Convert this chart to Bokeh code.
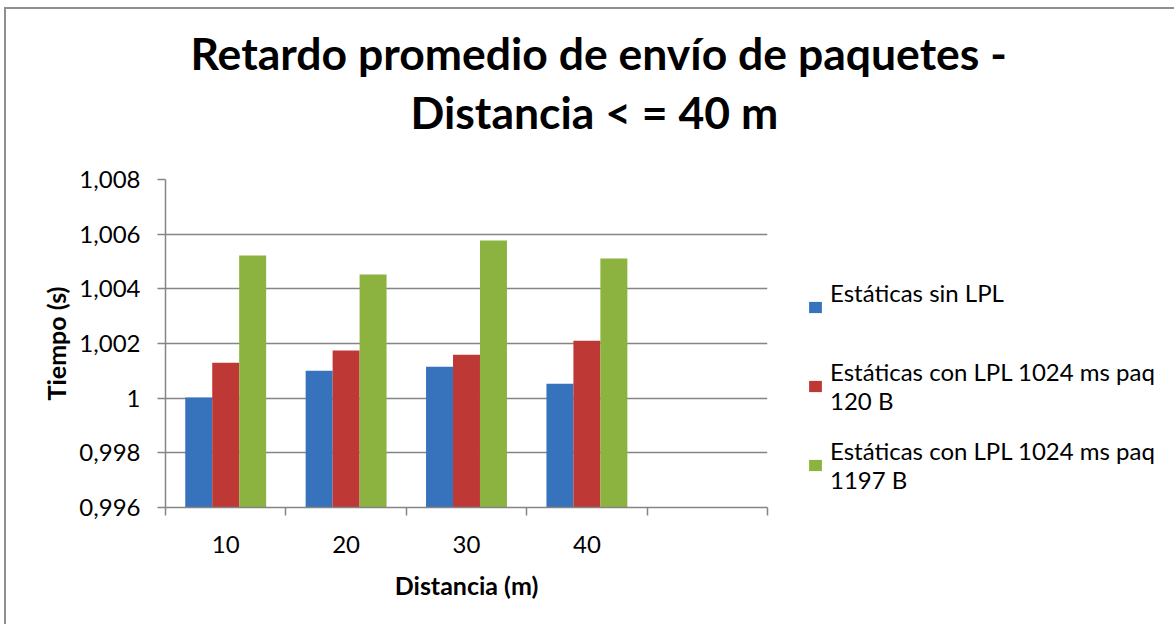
from bokeh.plotting import figure
from bokeh.models import (Range1d, FixedTicker, CustomJSTickFormatter,
                          Legend, LegendItem, Title, ColumnDataSource)
from bokeh.transform import dodge
from bokeh.embed import file_html
from bokeh.resources import INLINE

# ---- data ----
categories = ["10", "20", "30", "40", " "]
distances = ["10", "20", "30", "40"]
sin_lpl = [1.00002, 1.00100, 1.00115, 1.00053]
lpl_120 = [1.00130, 1.00174, 1.00159, 1.00210]
lpl_1197 = [1.00522, 1.00452, 1.00577, 1.00511]
series_labels = ["Estáticas sin LPL\n ",
                 "Estáticas con LPL 1024 ms paq\n120 B",
                 "Estáticas con LPL 1024 ms paq\n1197 B"]
y_ticks = [0.996, 0.998, 1.0, 1.002, 1.004, 1.006, 1.008]
y_tick_labels = ["0,996", "0,998", "1", "1,002", "1,004", "1,006", "1,008"]
title_lines = ["Retardo promedio de envío de paquetes -", "Distancia < = 40 m"]
x_label = "Distancia (m)"
y_label = "Tiempo (s)"

colors = ["#3772BD", "#BE3836", "#8CB23F"]
FONT = "Lato"
GRID = "#858585"

n = len(categories)
xpos = [categories.index(d) + 0.5 for d in distances]   # category centres on the numeric axis
source = ColumnDataSource(data=dict(x=xpos, a=sin_lpl, b=lpl_120, c=lpl_1197))

p = figure(x_range=Range1d(0, n), y_range=Range1d(y_ticks[0], y_ticks[-1]),
           frame_width=602, frame_height=328, output_backend="svg", toolbar_location=None,
           min_border_left=159, min_border_right=0,
           min_border_top=170, min_border_bottom=117)
p.styles = {"border-left": "2px solid #8f8f8f", "border-top": "2px solid #8f8f8f",
            "margin-left": "4px", "margin-top": "7px"}
p.outline_line_color = None
p.background_fill_color = "white"
p.border_fill_color = "white"

bw = 0.224
renderers = []
for col, off, colr in zip(["a", "b", "c"], [-bw, 0.0, bw], colors):
    r = p.vbar(x=dodge("x", off), top=col, bottom=y_ticks[0], width=bw,
               source=source, fill_color=colr, line_color=None)
    renderers.append(r)

# y axis
yax = p.yaxis[0]
yax.ticker = FixedTicker(ticks=y_ticks)
yax.formatter = CustomJSTickFormatter(args=dict(tvals=y_ticks, tlabels=y_tick_labels), code="""
let best = 0;
for (let i = 1; i < tvals.length; i++) {
  if (Math.abs(tvals[i] - tick) < Math.abs(tvals[best] - tick)) best = i;
}
return tlabels[best];
""")
yax.axis_line_color = GRID
yax.axis_line_width = 1.5
yax.major_tick_line_color = GRID
yax.major_tick_line_width = 1.5
yax.major_tick_out = 8
yax.major_tick_in = 0
yax.minor_tick_line_color = None
yax.major_label_text_font = FONT
yax.major_label_text_font_size = "24px"
yax.major_label_text_color = "black"
yax.major_label_standoff = 17
yax.axis_label = y_label
yax.axis_label_text_font = FONT
yax.axis_label_text_font_size = "25px"
yax.axis_label_text_font_style = "bold"
yax.axis_label_text_color = "black"
yax.axis_label_standoff = 5

p.ygrid.ticker = FixedTicker(ticks=y_ticks)
p.ygrid.grid_line_color = GRID
p.ygrid.grid_line_width = 1.5
p.xgrid.visible = False

# x axis: labels at category centres, tick marks at category boundaries
xax = p.xaxis[0]
xax.ticker = FixedTicker(ticks=[i + 0.5 for i in range(n)], minor_ticks=list(range(n + 1)))
xax.formatter = CustomJSTickFormatter(args=dict(clabels=categories),
                                      code="return clabels[Math.floor(tick)];")
xax.axis_line_color = GRID
xax.axis_line_width = 1.5
xax.major_tick_line_color = None
xax.major_tick_out = 0
xax.major_tick_in = 0
xax.minor_tick_line_color = GRID
xax.minor_tick_line_width = 1.5
xax.minor_tick_out = 8
xax.minor_tick_in = 0
xax.major_label_text_font = FONT
xax.major_label_text_font_size = "24px"
xax.major_label_text_color = "black"
xax.major_label_standoff = 13
xax.axis_label = x_label
xax.axis_label_text_font = FONT
xax.axis_label_text_font_size = "25px"
xax.axis_label_text_font_style = "bold"
xax.axis_label_text_color = "black"
xax.axis_label_standoff = 9

# spacer between plot area and title, then the two title lines (closest first)
p.add_layout(Title(text=" ", standoff=12, text_font=FONT, text_font_size="20px"), "above")
for txt, off, so in zip(reversed(title_lines), [245, 25], [7, 2]):
    p.add_layout(Title(text=txt, align="left", offset=off, standoff=so,
                       text_font=FONT, text_font_size="44.5px", text_font_style="bold",
                       text_color="black"), "above")

legend = Legend(items=[LegendItem(label=lab, renderers=[r]) for lab, r in zip(series_labels, renderers)],
                location=(40, 13), margin=0, padding=10, spacing=21,
                glyph_width=16, glyph_height=14, label_standoff=7,
                label_text_font=FONT, label_text_font_size="24px",
                label_text_color="black", border_line_color=None, background_fill_alpha=0)
p.add_layout(legend, "right")

open("out.html", "w").write(file_html(p, INLINE))
